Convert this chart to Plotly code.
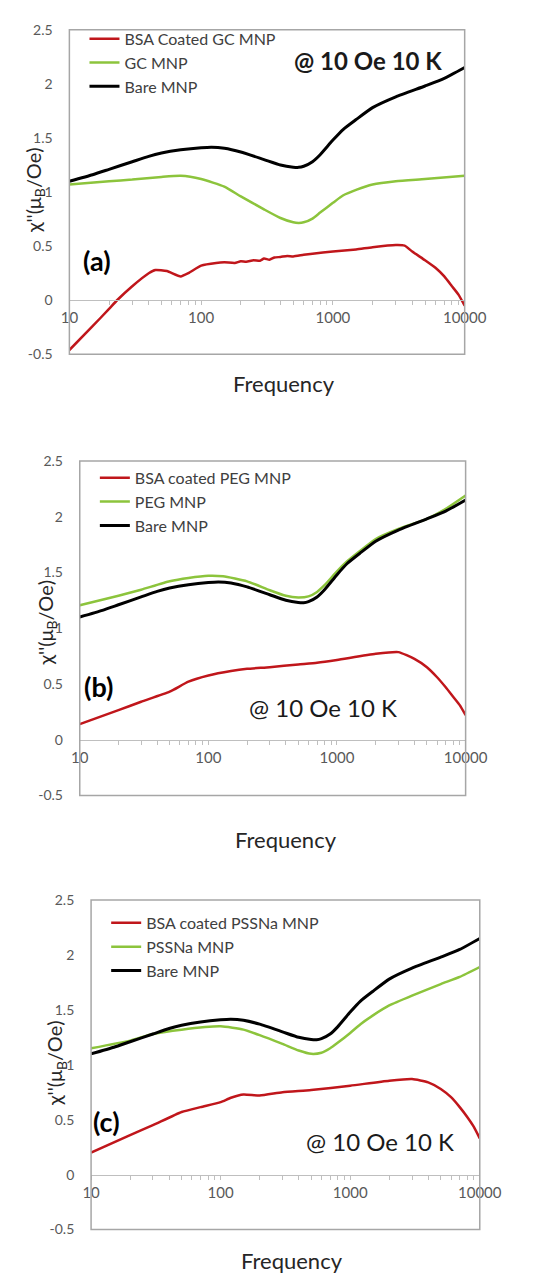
import plotly.graph_objects as go

# ---------------- data ----------------
freq_bare = [10, 15, 20, 30, 40, 50, 70, 100, 120, 150, 200, 300, 400, 500, 550, 600, 700, 800, 1000, 1200, 1500, 2000, 3000, 5000, 7000, 10000]
bare_mnp = [1.10, 1.16, 1.21, 1.28, 1.33, 1.36, 1.39, 1.41, 1.415, 1.405, 1.37, 1.30, 1.25, 1.23, 1.228, 1.238, 1.28, 1.345, 1.48, 1.58, 1.67, 1.78, 1.88, 1.98, 2.05, 2.15]

freq_gc = [10, 20, 30, 50, 70, 100, 150, 200, 300, 400, 500, 550, 600, 700, 800, 1000, 1200, 1500, 2000, 3000, 5000, 10000]
gc_mnp = [1.07, 1.10, 1.115, 1.14, 1.15, 1.12, 1.05, 0.96, 0.84, 0.76, 0.72, 0.715, 0.72, 0.755, 0.81, 0.90, 0.97, 1.02, 1.07, 1.10, 1.12, 1.15]

freq_bsa_gc = [10, 15, 20, 23, 30, 40, 45, 55, 70, 80, 100, 130, 150, 180, 200, 220, 250, 280, 300, 330, 360, 400, 450, 500, 600, 700,
               1000, 1500, 2000, 3000, 3500, 4000, 5000, 6000, 7000, 8000, 9000, 10000]
bsa_gc_mnp = [-0.46, -0.24, -0.08, 0.0, 0.13, 0.25, 0.28, 0.27, 0.22, 0.25, 0.32, 0.345, 0.35, 0.345, 0.36, 0.355, 0.37, 0.365, 0.385, 0.375, 0.395, 0.40, 0.41, 0.405, 0.42, 0.43,
              0.45, 0.47, 0.49, 0.51, 0.505, 0.45, 0.37, 0.30, 0.22, 0.13, 0.05, -0.05]

freq_peg = [10, 20, 30, 50, 70, 100, 130, 200, 300, 400, 500, 600, 700, 800, 1000, 1200, 1500, 2000, 3000, 5000, 7000, 10000]
peg_mnp = [1.205, 1.29, 1.345, 1.42, 1.45, 1.47, 1.465, 1.42, 1.34, 1.29, 1.275, 1.285, 1.325, 1.385, 1.51, 1.60, 1.69, 1.80, 1.89, 1.98, 2.07, 2.19]

freq_bsa_peg = [10, 20, 30, 50, 70, 100, 150, 200, 300, 500, 700, 1000, 2000, 3000, 4000, 5000, 6000, 7000, 8000, 9000, 10000]
bsa_peg_mnp = [0.14, 0.265, 0.34, 0.43, 0.52, 0.575, 0.615, 0.635, 0.65, 0.675, 0.69, 0.715, 0.77, 0.785, 0.725, 0.65, 0.56, 0.47, 0.385, 0.31, 0.22]

freq_pss = [10, 20, 30, 50, 100, 150, 200, 300, 400, 500, 600, 700, 800, 1000, 1200, 1500, 2000, 3000, 5000, 7000, 10000]
pssna_mnp = [1.15, 1.22, 1.28, 1.32, 1.35, 1.32, 1.27, 1.19, 1.13, 1.10, 1.11, 1.15, 1.20, 1.29, 1.37, 1.45, 1.54, 1.63, 1.735, 1.80, 1.89]

freq_bsa_pss = [10, 20, 30, 50, 70, 100, 120, 150, 200, 300, 500, 1000, 2000, 3000, 4000, 5000, 6000, 7000, 8000, 9000, 10000]
bsa_pssna_mnp = [0.20, 0.36, 0.45, 0.57, 0.615, 0.66, 0.70, 0.73, 0.72, 0.75, 0.77, 0.81, 0.855, 0.87, 0.84, 0.78, 0.705, 0.615, 0.525, 0.435, 0.33]

y_tickvals = [-0.5, 0, 0.5, 1, 1.5, 2, 2.5]
y_ticktext = ["-0.5", "0", "0.5", "1", "1.5", "2", "2.5"]
x_tickvals = [m * 10 ** d for d in (1, 2, 3) for m in range(1, 10)] + [10000]
x_ticktext = [("%d" % v) if v in (10, 100, 1000, 10000) else "" for v in x_tickvals]

panel_names = [
    ("BSA Coated GC MNP", "GC MNP", "(a)"),
    ("BSA coated PEG MNP", "PEG MNP", "(b)"),
    ("BSA coated PSSNa MNP", "PSSNa MNP", "(c)"),
]

RED = "#C0161B"
GREEN = "#8CC43C"
BLACK = "#000000"
FONT = "Lato"
W, H = 548, 1280

# pixel boxes of the three panels (left, right, top, bottom)
boxes = [(64, 483, 21, 350), (75, 484, 458, 797), (87, 499, 903, 1237)]
legend_top = [13, 458, 909]

fig = go.Figure()

series = [
    (freq_bsa_gc, bsa_gc_mnp, freq_gc, gc_mnp),
    (freq_bsa_peg, bsa_peg_mnp, freq_peg, peg_mnp),
    (freq_bsa_pss, bsa_pssna_mnp, freq_pss, pssna_mnp),
]

def px(x):
    return x / W

def py(y):
    return 1 - y / H

annotations = []
shapes = []
for i in range(3):
    sfx = "" if i == 0 else str(i + 1)
    xa, ya = "x" + sfx, "y" + sfx
    lg = "legend" + sfx
    fr, rv, fg, gv = series[i]
    red_name, green_name, tag = panel_names[i]
    fig.add_trace(go.Scatter(x=fr, y=rv, mode="lines", name=red_name, line=dict(color=RED, width=2.5, shape="spline", smoothing=0.5),
                             xaxis=xa, yaxis=ya, legend=lg))
    fig.add_trace(go.Scatter(x=fg, y=gv, mode="lines", name=green_name, line=dict(color=GREEN, width=2.5, shape="spline", smoothing=0.5),
                             xaxis=xa, yaxis=ya, legend=lg))
    fig.add_trace(go.Scatter(x=freq_bare, y=bare_mnp, mode="lines", name="Bare MNP", line=dict(color=BLACK, width=3, shape="spline", smoothing=0.5),
                             xaxis=xa, yaxis=ya, legend=lg))
    l, r, t, b = boxes[i]
    ydom = [py(b), py(t)]
    zero_pos = ydom[0] + (0.5 / 3.0) * (ydom[1] - ydom[0])
    fig.update_layout(**{
        "xaxis" + sfx: dict(type="log", range=[1, 4], domain=[px(l), px(r)], anchor="free", position=zero_pos,
                            showline=True, linecolor="#BFBFBF", linewidth=1, showgrid=False, zeroline=False,
                            tickvals=x_tickvals, ticktext=x_ticktext, ticks="outside", ticklen=4, tickcolor="#BFBFBF",
                            tickfont=dict(family=FONT, size=15, color="#595959")),
        "yaxis" + sfx: dict(range=[-0.5, 2.5], domain=ydom, anchor=xa, showline=False, showgrid=False, zeroline=False,
                            tickvals=y_tickvals, ticktext=y_ticktext, ticks="outside", ticklen=13, tickcolor="rgba(0,0,0,0)",
                            tickfont=dict(family=FONT, size=14, color="#595959")),
        lg: dict(x=px(l + 16), y=py(legend_top[i]), xanchor="left", yanchor="top", bgcolor="rgba(0,0,0,0)",
                 font=dict(family=FONT, size=16, color="#404040"), tracegroupgap=0, itemwidth=30),
    })
    shapes.append(dict(type="rect", xref=xa + " domain", yref=ya + " domain", x0=0, x1=1, y0=0, y1=1,
                       line=dict(color="#A6A6A6", width=1.5), layer="above"))

# text annotations (pixel positions)
at_pos = [(380, 52, True), (333, 708, False), (393, 1148, False)]
tag_pos = [(93, 255), (95, 687), (103, 1127)]
freq_pos = [(292, 380), (294, 842), (300, 1268)]
ytitle_pos = [(27, 183), (40, 622), (50, 1068)]
for i in range(3):
    x, y, bold = at_pos[i]
    txt = "<b>@ 10 Oe 10 K</b>" if bold else "@ 10 Oe 10 K"
    annotations.append(dict(text=txt, x=px(x), y=py(y), xref="paper", yref="paper", showarrow=False,
                            xanchor="center", yanchor="middle", font=dict(family=FONT, size=24, color="#1a1a1a")))
    x, y = tag_pos[i]
    annotations.append(dict(text="<b>" + panel_names[i][2] + "</b>", x=px(x), y=py(y), xref="paper", yref="paper", showarrow=False,
                            xanchor="center", yanchor="middle", font=dict(family=FONT, size=27, color="#000000")))
    x, y = freq_pos[i]
    annotations.append(dict(text="Frequency", x=px(x), y=py(y), xref="paper", yref="paper", showarrow=False,
                            xanchor="center", yanchor="middle", font=dict(family=FONT, size=22, color="#262626")))
    x, y = ytitle_pos[i]
    annotations.append(dict(text="χ''(μ<sub>B</sub>/Oe)", x=px(x), y=py(y), xref="paper", yref="paper", showarrow=False,
                            textangle=-90, xanchor="center", yanchor="middle", font=dict(family=FONT, size=20, color="#262626")))

fig.update_layout(width=W, height=H, margin=dict(l=0, r=0, t=0, b=0), paper_bgcolor="white", plot_bgcolor="white",
                  annotations=annotations, shapes=shapes, showlegend=True)

fig.write_html("out.html")
